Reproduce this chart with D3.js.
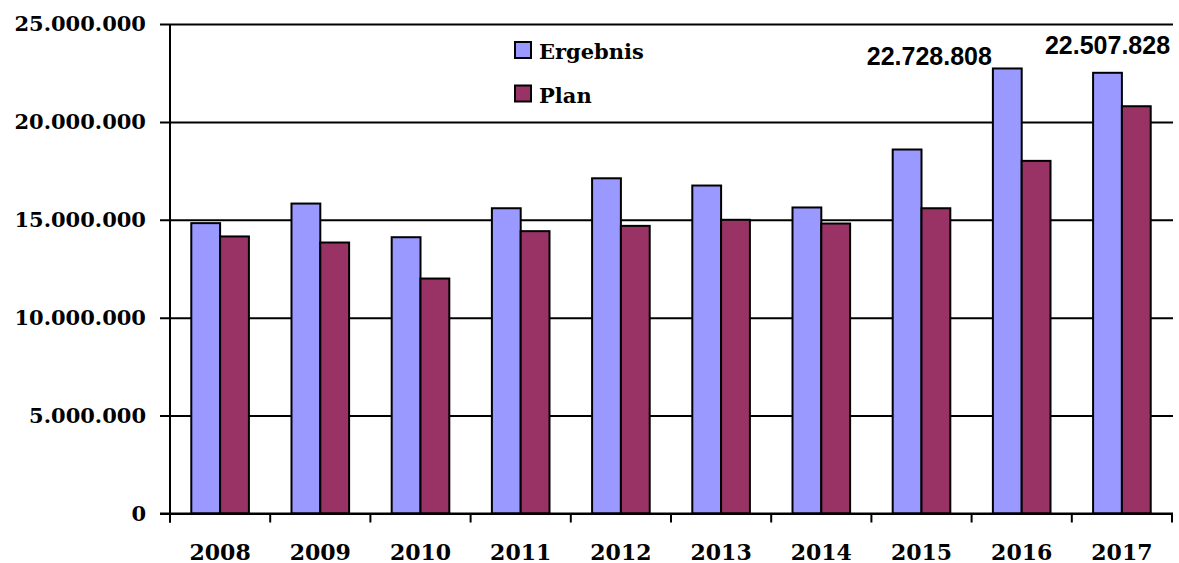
<!DOCTYPE html>
<html>
<head>
<meta charset="utf-8">
<script src="https://cdn.jsdelivr.net/npm/d3@7"></script>
<style>
  body { margin: 0; background: #fff; }
  svg { display: block; }
</style>
</head>
<body>
<svg id="canvas" width="1179" height="563"></svg>
<script>
// ************************************************************************************************** //
// Data

var years = ['2008', '2009', '2010', '2011', '2012', '2013', '2014', '2015', '2016', '2017'];
var ergebnis = [14830000, 15830000, 14110000, 15590000, 17120000, 16750000, 15630000, 18590000, 22728808, 22507828];
var plan = [14150000, 13840000, 12000000, 14420000, 14690000, 15000000, 14810000, 15590000, 18010000, 20800000];
var series = ['Ergebnis', 'Plan'];
var yTicks = [0, 5000000, 10000000, 15000000, 20000000, 25000000];
var labelYears = ['2016', '2017'];

var colors = { Ergebnis: '#9999FF', Plan: '#993366' };
var serif = '"DejaVu Serif", serif';
var sans = '"Liberation Sans", Arial, sans-serif';

// ************************************************************************************************** //
// Scales

var svg = d3.select('#canvas');
var plotLeft = 170, plotRight = 1172, plotTop = 24, plotBottom = 513.5;

var x0 = d3.scaleBand().domain(years).range([plotLeft, plotRight]).paddingInner(0.425).paddingOuter(0.2125);
var x1 = d3.scaleBand().domain(series).range([0, x0.bandwidth()]);
var y = d3.scaleLinear().domain([0, 25000000]).range([plotBottom, plotTop]);

var fmt = d3.formatLocale({ decimal: ',', thousands: '.', grouping: [3], currency: ['', '€'] }).format(',d');

// ************************************************************************************************** //
// Grid + y axis

var yAxis = d3.axisLeft(y).tickValues(yTicks).tickSize(-(plotRight - plotLeft + 1)).tickSizeOuter(0).tickPadding(14).tickFormat(fmt);
var gy = svg.append('g').attr('transform', 'translate(' + plotLeft + ',0)').call(yAxis);
gy.select('.domain').remove();
gy.selectAll('.tick line').attr('x1', -10).attr('stroke', '#000').attr('stroke-width', 2);
gy.selectAll('.tick text').attr('x', -24).style('font-family', serif).style('font-weight', 'bold').style('font-size', '21px').attr('fill', '#000');

// ************************************************************************************************** //
// Bars

var rows = years.map(function(yr, i){ return { year: yr, values: [{ key: 'Ergebnis', v: ergebnis[i] }, { key: 'Plan', v: plan[i] }] }; });

var groups = svg.append('g').selectAll('g').data(rows).join('g')
  .attr('transform', function(d){ return 'translate(' + x0(d.year) + ',0)'; });

groups.selectAll('rect').data(function(d){ return d.values; }).join('rect')
  .attr('x', function(d){ return x1(d.key); })
  .attr('y', function(d){ return y(d.v); })
  .attr('width', x1.bandwidth())
  .attr('height', function(d){ return y(0) - y(d.v); })
  .attr('fill', function(d){ return colors[d.key]; })
  .attr('stroke', '#000').attr('stroke-width', 2);

// value labels for the last two Ergebnis bars
labelYears.forEach(function(yr){
  var i = years.indexOf(yr);
  var bx = x0(yr) + x1('Ergebnis');
  var t = svg.append('text').text(fmt(ergebnis[i]))
    .style('font-family', sans).style('font-weight', 'bold').style('font-size', '25px').attr('fill', '#000');
  if(yr == '2016'){
    t.attr('x', bx - 1).attr('y', y(ergebnis[i]) - 3).attr('text-anchor', 'end');
  } else {
    t.attr('x', bx + x1.bandwidth() / 2).attr('y', y(ergebnis[i]) - 19).attr('text-anchor', 'middle');
  }
});

// ************************************************************************************************** //
// X axis

var ax = svg.append('g');
ax.append('line').attr('x1', plotLeft - 10).attr('x2', plotRight + 1).attr('y1', plotBottom).attr('y2', plotBottom).attr('stroke', '#000').attr('stroke-width', 2);
ax.append('line').attr('x1', plotLeft).attr('x2', plotLeft).attr('y1', plotTop).attr('y2', plotBottom + 9).attr('stroke', '#000').attr('stroke-width', 2);

var step = x0.step();
ax.selectAll('.xt').data(d3.range(years.length + 1)).join('line').attr('class', 'xt')
  .attr('x1', function(i){ return plotLeft + i * step; }).attr('x2', function(i){ return plotLeft + i * step; })
  .attr('y1', plotBottom).attr('y2', plotBottom + 9).attr('stroke', '#000').attr('stroke-width', 2);

ax.selectAll('.xl').data(years).join('text').attr('class', 'xl')
  .attr('x', function(d){ return x0(d) + x0.bandwidth() / 2; })
  .attr('y', 560).attr('text-anchor', 'middle')
  .style('font-family', serif).style('font-weight', 'bold').style('font-size', '22px')
  .text(function(d){ return d; });

// ************************************************************************************************** //
// Legend

var lg = svg.append('g').attr('transform', 'translate(515,42)');
series.forEach(function(s, i){
  lg.append('rect').attr('x', 0).attr('y', i * 43.5).attr('width', 16).attr('height', 16)
    .attr('fill', colors[s]).attr('stroke', '#000').attr('stroke-width', 2);
  lg.append('text').attr('x', 24).attr('y', i * 43.5 + 17).text(s)
    .style('font-family', serif).style('font-weight', 'bold').style('font-size', '21px');
});
</script>
</body>
</html>
